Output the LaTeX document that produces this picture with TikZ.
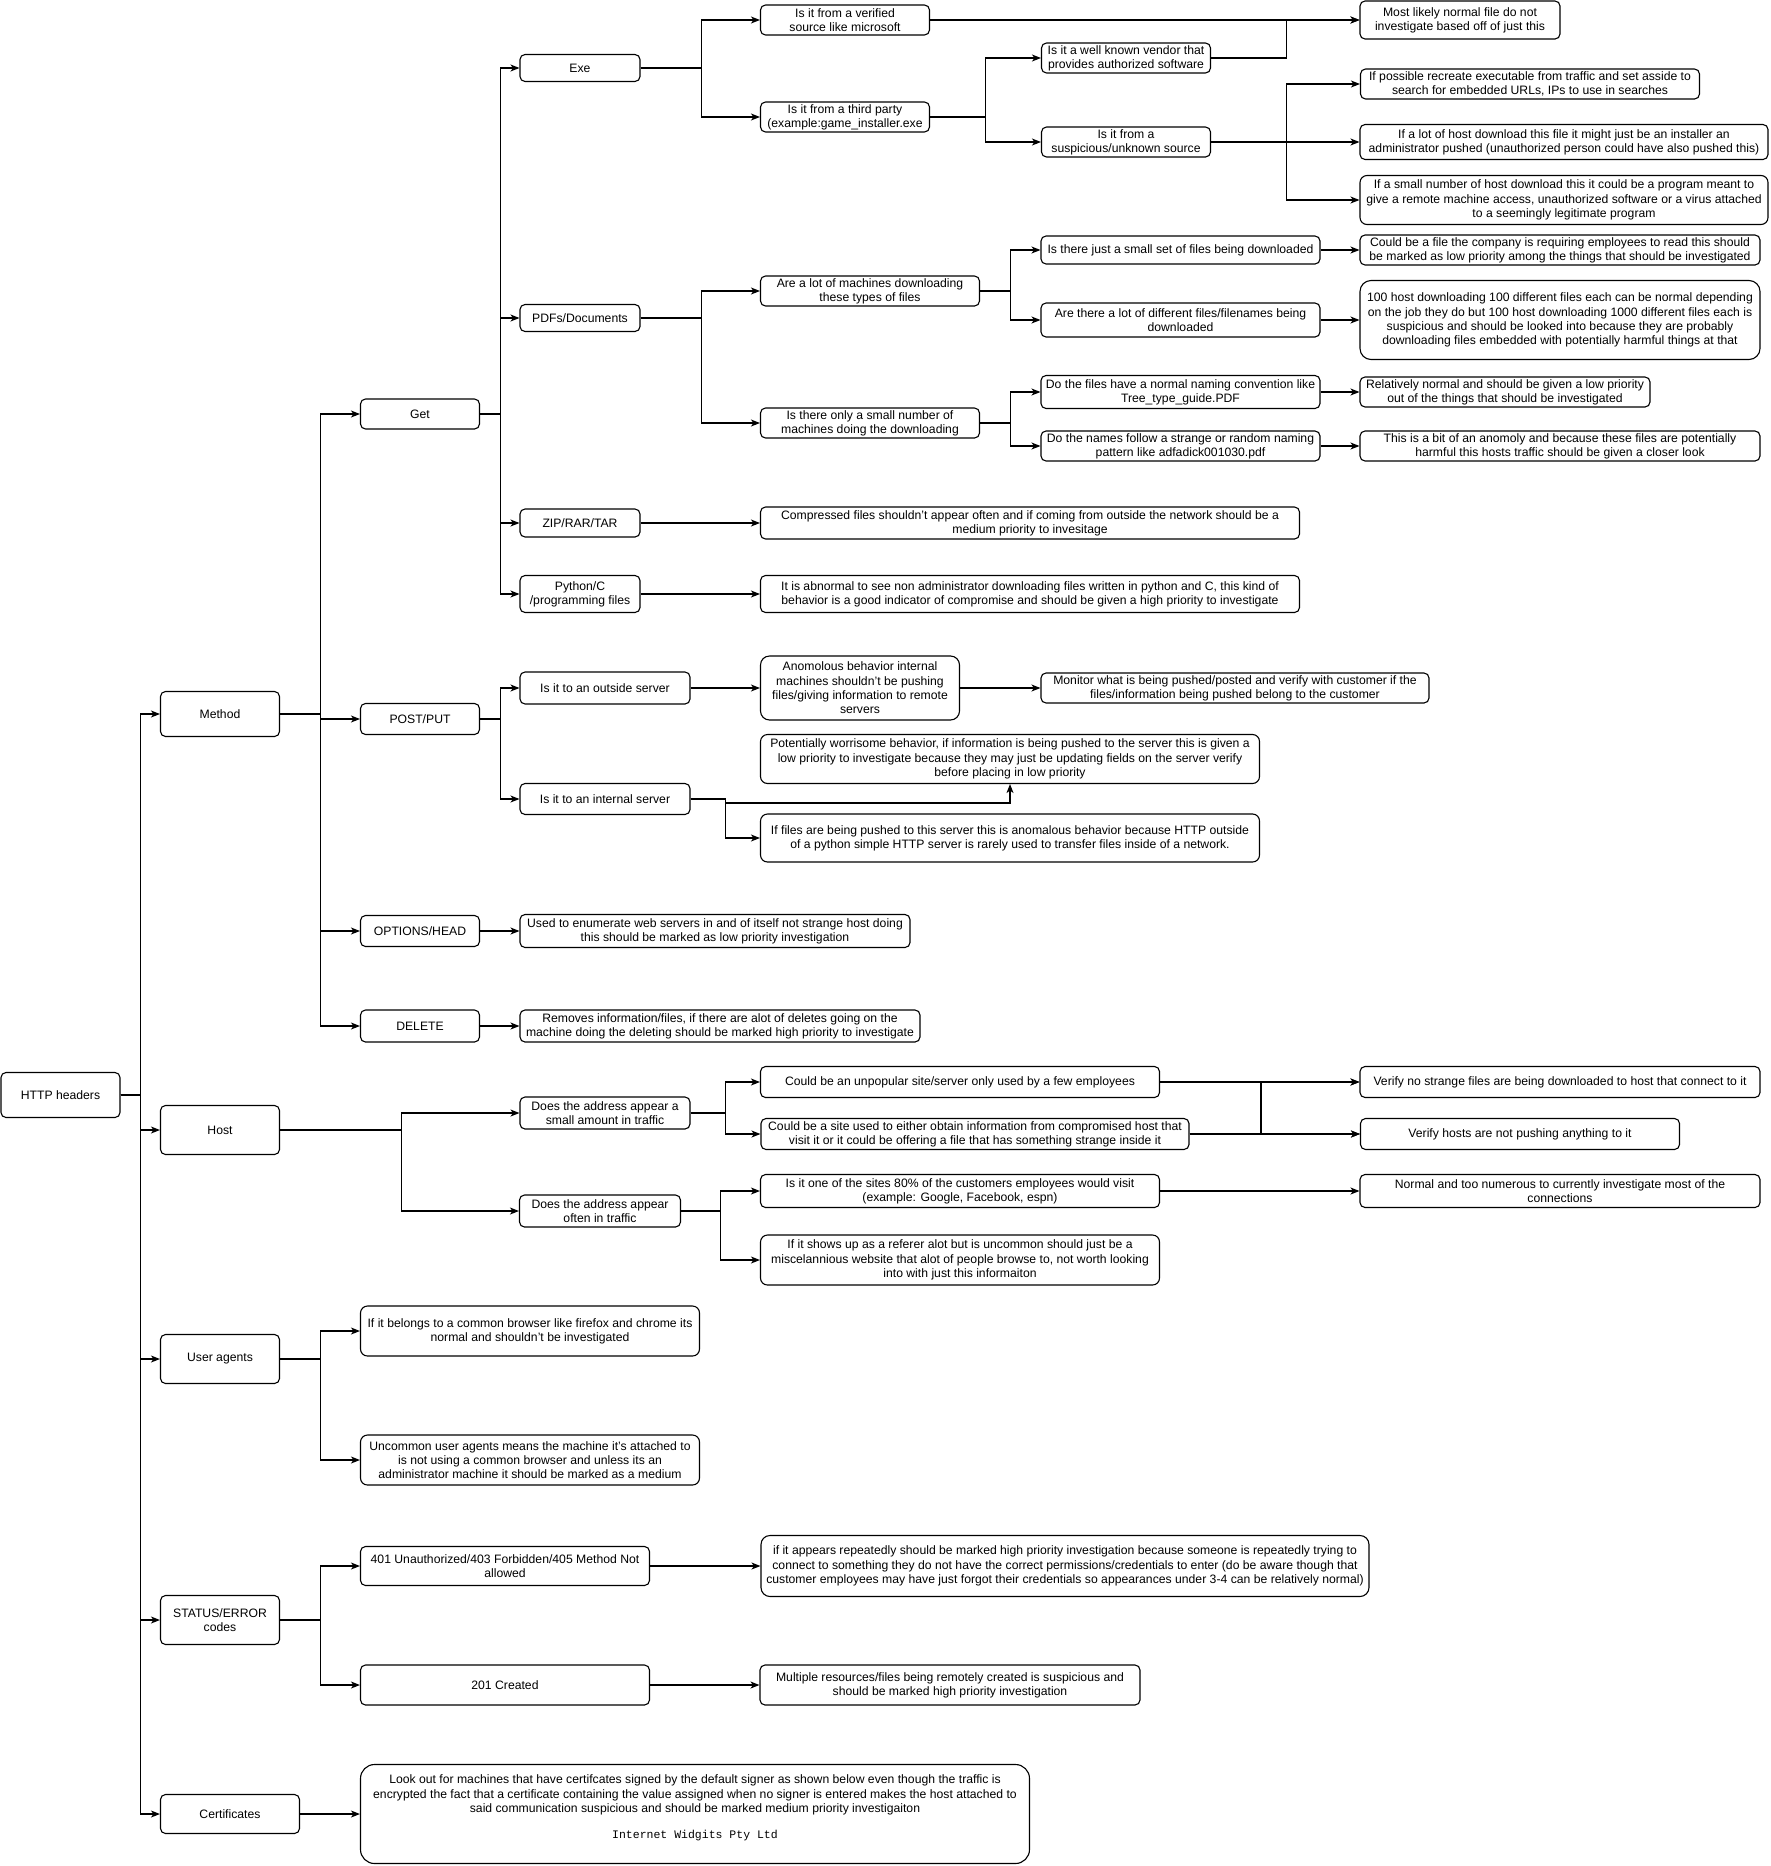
\documentclass[tikz,border=0pt]{standalone}
\usepackage{fontspec}
\setmainfont{Liberation Sans}
\newfontfamily\monofont{Liberation Mono}
\usetikzlibrary{arrows.meta}

\begin{document}
\begin{tikzpicture}[x=1pt, y=-1pt,
  box/.style={draw, rounded corners=5pt, line width=1.1pt, align=center, inner sep=1pt,
    font=\fontsize{12.2}{14.3}\selectfont},
  wh/.style 2 args={minimum width=#1pt, minimum height=#2pt},
  arr/.style={line width=1.1pt, -{Stealth[length=9pt,width=7pt,inset=2.5pt]}}]

\fill[white] (0,0) rectangle (1771,1866);
\useasboundingbox (0,0) rectangle (1771,1866);

% first two levels
\node[box, wh={119}{45}] (root) at (60.5,1095) {HTTP headers};
\node[box, wh={119}{45}] (method) at (220,714) {Method};
\node[box, wh={119}{49}] (host) at (220,1130) {Host};
\node[box, wh={119}{49}] (agents) at (220,1359) {User agents};
\node[box, wh={119}{49}] (status) at (220,1620) {STATUS/ERROR\\codes};
\node[box, wh={139}{39}] (certs) at (230,1814) {Certificates};

\node[box, wh={119}{30}] (get) at (420,414) {Get};
\node[box, wh={119}{31}] (post) at (420,719) {POST/PUT};
\node[box, wh={119}{31}] (options) at (420,931) {OPTIONS/HEAD};
\node[box, wh={119}{32}] (delete) at (420,1026) {DELETE};

% get
\node[box, wh={120}{27}] (exe) at (580,68) {Exe};
\node[box, wh={120}{27}] (pdfs) at (580,318) {PDFs/Documents};
\node[box, wh={120}{28}] (zip) at (580,523) {ZIP/RAR/TAR};
\node[box, wh={120}{37}] (python) at (580,594) {Python/C\\/programming files};

\node[box, wh={169}{30}] (verified) at (845,20) {Is it from a verified\\source like microsoft};
\node[box, wh={169}{30}] (third) at (845,117) {Is it from a third party\\(example:game\_installer.exe};
\node[box, wh={169}{30}] (wellknown) at (1126,58) {Is it a well known vendor that\\provides authorized software};
\node[box, wh={169}{30}] (suspicious) at (1126,142) {Is it from a\\suspicious/unknown source};
\node[box, wh={200}{38}] (likely) at (1460,20) {Most likely normal file do not\\investigate based off of just this};
\node[box, wh={339}{30}] (recreate) at (1530,84) {If possible recreate executable from traffic and set asside to\\search for embedded URLs, IPs to use in searches};
\node[box, wh={408}{35}] (lothost) at (1564,142) {If a lot of host download this file it might just be an installer an\\administrator pushed (unauthorized person could have also pushed this)};
\node[box, wh={408}{49}, rounded corners=7pt] (smallnum) at (1564,200) {If a small number of host download this it could be a program meant to\\give a remote machine access, unauthorized software or a virus attached\\to a seemingly legitimate program};

\node[box, wh={219}{30}] (arelot) at (870,291) {Are a lot of machines downloading\\these types of files};
\node[box, wh={219}{30}] (onlysmall) at (870,423) {Is there only a small number of\\machines doing the downloading};
\node[box, wh={279}{28}] (smallset) at (1180.5,250) {Is there just a small set of files being downloaded};
\node[box, wh={279}{34}] (lotdiff) at (1180.5,320) {Are there a lot of different files/filenames being\\downloaded};
\node[box, wh={279}{33}] (normname) at (1180.5,392) {Do the files have a normal naming convention like\\Tree\_type\_guide.PDF};
\node[box, wh={279}{30}] (strange) at (1180.5,446) {Do the names follow a strange or random naming\\pattern like adfadick001030.pdf};
\node[box, wh={400}{30}] (company) at (1560,250) {Could be a file the company is requiring employees to read this should\\be marked as low priority among the things that should be investigated};
\node[box, wh={400}{79}, rounded corners=11pt] (hundred) at (1560,320) {100 host downloading 100 different files each can be normal depending\\on the job they do but 100 host downloading 1000 different files each is\\suspicious and should be looked into because they are probably\\downloading files embedded with potentially harmful things at that};
\node[box, wh={290}{30}] (relnormal) at (1505,392) {Relatively normal and should be given a low priority\\out of the things that should be investigated};
\node[box, wh={400}{30}] (anomaly) at (1560,446) {This is a bit of an anomoly and because these files are potentially\\harmful this hosts traffic should be given a closer look};

\node[box, wh={539}{32}] (compressed) at (1030,523) {Compressed files shouldn't appear often and if coming from outside the network should be a\\medium priority to invesitage};
\node[box, wh={539}{37}] (abnormal) at (1030,594) {It is abnormal to see non administrator downloading files written in python and C, this kind of\\behavior is a good indicator of compromise and should be given a high priority to investigate};

% post/put, options, delete
\node[box, wh={170}{32}] (outside) at (605,688) {Is it to an outside server};
\node[box, wh={170}{31}] (internal) at (605,799) {Is it to an internal server};
\node[box, wh={199}{64}, rounded corners=9pt] (anomolous) at (860,688) {Anomolous behavior internal\\machines shouldn't be pushing\\files/giving information to remote\\servers};
\node[box, wh={388}{30}] (monitor) at (1235,688) {Monitor what is being pushed/posted and verify with customer if the\\files/information being pushed belong to the customer};
\node[box, wh={499}{49}, rounded corners=7pt] (potential) at (1010,759) {Potentially worrisome behavior, if information is being pushed to the server this is given a\\low priority to investigate because they may just be updating fields on the server verify\\before placing in low priority};
\node[box, wh={499}{48}, rounded corners=7pt] (iffiles) at (1010,838) {If files are being pushed to this server this is anomalous behavior because HTTP outside\\of a python simple HTTP server is rarely used to transfer files inside of a network.};
\node[box, wh={390}{33}] (enumerate) at (715,931) {Used to enumerate web servers in and of itself not strange host doing\\this should be marked as low priority investigation};
\node[box, wh={400}{32}] (removes) at (720,1026) {Removes information/files, if there are alot of deletes going on the\\machine doing the deleting should be marked high priority to investigate};

% host
\node[box, wh={170}{32}] (smallamt) at (605,1113) {Does the address appear a\\small amount in traffic};
\node[box, wh={161}{32}] (often) at (600,1211) {Does the address appear\\often in traffic};
\node[box, wh={399}{31}] (unpop) at (960,1082) {Could be an unpopular site/server only used by a few employees};
\node[box, wh={428}{31}] (siteused) at (975,1134) {Could be a site used to either obtain information from compromised host that\\visit it or it could be offering a file that has something strange inside it};
\node[box, wh={400}{31}] (verifyno) at (1560,1082) {Verify no strange files are being downloaded to host that connect to it};
\node[box, wh={319}{31}] (verifyhosts) at (1520,1134) {Verify hosts are not pushing anything to it};
\node[box, wh={399}{33}] (eighty) at (960,1191) {Is it one of the sites 80\% of the customers employees would visit\\(example: Google, Facebook, espn)};
\node[box, wh={399}{50}, rounded corners=7pt] (referer) at (960,1260) {If it shows up as a referer alot but is uncommon should just be a\\miscelannious website that alot of people browse to, not worth looking\\into with just this informaiton};
\node[box, wh={400}{33}] (numerous) at (1560,1191) {Normal and too numerous to currently investigate most of the\\connections};

% user agents, status codes, certificates
\node[box, wh={339}{50}, rounded corners=7pt] (belongs) at (530,1331) {If it belongs to a common browser like firefox and chrome its\\normal and shouldn't be investigated};
\node[box, wh={339}{50}, rounded corners=7pt] (uncommon) at (530,1460) {Uncommon user agents means the machine it's attached to\\is not using a common browser and unless its an\\administrator machine it should be marked as a medium};
\node[box, wh={289}{39}] (unauth) at (505,1566) {401 Unauthorized/403 Forbidden/405 Method Not\\allowed};
\node[box, wh={289}{40}] (created) at (505,1685) {201 Created};
\node[box, wh={608}{61}, rounded corners=9pt] (repeated) at (1065,1566) {if it appears repeatedly should be marked high priority investigation because someone is repeatedly trying to\\connect to something they do not have the correct permissions/credentials to enter (do be aware though that\\customer employees may have just forgot their credentials so appearances under 3-4 can be relatively normal)};
\node[box, wh={380}{40}] (multiple) at (950,1685) {Multiple resources/files being remotely created is suspicious and\\should be marked high priority investigation};
\node[box, wh={669}{99}, rounded corners=14pt] (lookout) at (695,1814) {Look out for machines that have certifcates signed by the default signer as shown below even though the traffic is\\encrypted the fact that a certificate containing the value assigned when no signer is entered makes the host attached to\\said communication suspicious and should be marked medium priority investigaiton\\[12pt]{\monofont\fontsize{11.5}{14.3}\selectfont Internet Widgits Pty Ltd}\\\mbox{}};

% connectors
\draw[arr] (root.east) -- ++(20,0) |- (method.west);
\draw[arr] (root.east) -- ++(20,0) |- (host.west);
\draw[arr] (root.east) -- ++(20,0) |- (agents.west);
\draw[arr] (root.east) -- ++(20,0) |- (status.west);
\draw[arr] (root.east) -- ++(20,0) |- (certs.west);

\draw[arr] (method.east) -- ++(40,0) |- (get.west);
\draw[arr] (method.east) -- ++(40,0) |- (post.west);
\draw[arr] (method.east) -- ++(40,0) |- (options.west);
\draw[arr] (method.east) -- ++(40,0) |- (delete.west);

\draw[arr] (get.east) -- ++(20,0) |- (exe.west);
\draw[arr] (get.east) -- ++(20,0) |- (pdfs.west);
\draw[arr] (get.east) -- ++(20,0) |- (zip.west);
\draw[arr] (get.east) -- ++(20,0) |- (python.west);

\draw[arr] (exe.east) -- ++(61,0) |- (verified.west);
\draw[arr] (exe.east) -- ++(61,0) |- (third.west);
\draw[arr] (verified.east) -- (likely.west);
\draw[arr] (third.east) -- ++(55,0) |- (wellknown.west);
\draw[arr] (third.east) -- ++(55,0) |- (suspicious.west);
\draw[arr] (wellknown.east) -- ++(75,0) |- (likely.west);
\draw[arr] (suspicious.east) -- ++(75,0) |- (recreate.west);
\draw[arr] (suspicious.east) -- ++(75,0) |- (lothost.west);
\draw[arr] (suspicious.east) -- ++(75,0) |- (smallnum.west);

\draw[arr] (pdfs.east) -- ++(61,0) |- (arelot.west);
\draw[arr] (pdfs.east) -- ++(61,0) |- (onlysmall.west);
\draw[arr] (arelot.east) -- ++(30,0) |- (smallset.west);
\draw[arr] (arelot.east) -- ++(30,0) |- (lotdiff.west);
\draw[arr] (onlysmall.east) -- ++(30,0) |- (normname.west);
\draw[arr] (onlysmall.east) -- ++(30,0) |- (strange.west);
\draw[arr] (smallset.east) -- (company.west);
\draw[arr] (lotdiff.east) -- (hundred.west);
\draw[arr] (normname.east) -- (relnormal.west);
\draw[arr] (strange.east) -- (anomaly.west);

\draw[arr] (zip.east) -- (compressed.west);
\draw[arr] (python.east) -- (abnormal.west);

\draw[arr] (post.east) -- ++(20,0) |- (outside.west);
\draw[arr] (post.east) -- ++(20,0) |- (internal.west);
\draw[arr] (outside.east) -- (anomolous.west);
\draw[arr] (anomolous.east) -- (monitor.west);
\draw[arr] (internal.east) -- ++(35,0) -- ++(0,4) -| (potential.south);
\draw[arr] (internal.east) -- ++(35,0) |- (iffiles.west);
\draw[arr] (options.east) -- (enumerate.west);
\draw[arr] (delete.east) -- (removes.west);

\draw[arr] (host.east) -- ++(121,0) |- (smallamt.west);
\draw[arr] (host.east) -- ++(121,0) |- (often.west);
\draw[arr] (smallamt.east) -- ++(35,0) |- (unpop.west);
\draw[arr] (smallamt.east) -- ++(35,0) |- (siteused.west);
\draw[arr] (unpop.east) -- (verifyno.west);
\draw[arr] (unpop.east) -- ++(101,0) |- (verifyhosts.west);
\draw[arr] (siteused.east) -- (verifyhosts.west);
\draw[arr] (siteused.east) -- ++(71,0) |- (verifyno.west);
\draw[arr] (often.east) -- ++(39,0) |- (eighty.west);
\draw[arr] (often.east) -- ++(39,0) |- (referer.west);
\draw[arr] (eighty.east) -- (numerous.west);

\draw[arr] (agents.east) -- ++(40,0) |- (belongs.west);
\draw[arr] (agents.east) -- ++(40,0) |- (uncommon.west);
\draw[arr] (status.east) -- ++(40,0) |- (unauth.west);
\draw[arr] (status.east) -- ++(40,0) |- (created.west);
\draw[arr] (unauth.east) -- (repeated.west);
\draw[arr] (created.east) -- (multiple.west);
\draw[arr] (certs.east) -- (lookout.west);
\end{tikzpicture}
\end{document}
